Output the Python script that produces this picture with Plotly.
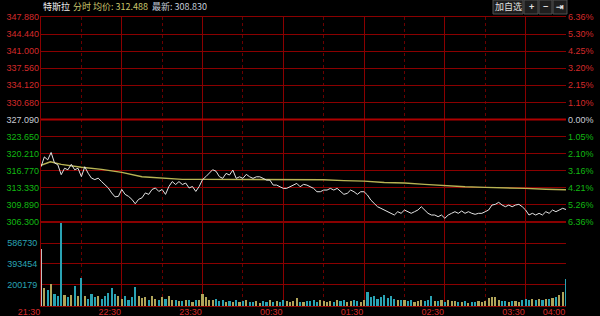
import pandas as pd
import plotly.graph_objects as go

# ---------------- data ----------------
start_time = "2021-01-04 21:30"
step = "150s"
prev_close = 327.09

price = [317.5, 319.5, 318.9, 320.4, 318.3, 317.9, 315.9, 317.2, 316.9, 318.0,
         316.9, 317.2, 315.5, 317.5, 316.2, 315.2, 314.9, 315.2, 314.5, 313.9,
         313.2, 312.2, 311.4, 311.5, 312.9, 311.9, 311.5, 310.9, 310.0, 310.9,
         311.2, 312.2, 311.9, 312.9, 313.2, 312.5, 312.9, 311.9, 313.5, 314.5,
         313.9, 314.5, 313.9, 314.2, 313.2, 313.5, 312.5, 313.5, 314.9, 315.5,
         316.2, 316.9, 316.6, 315.5, 315.15, 316.16, 315.82, 316.83, 315.15, 315.47,
         315.15, 315.96, 315.47, 315.15, 315.47, 315.47, 315.15, 314.8, 314.8, 313.79,
         313.79, 313.45, 313.12, 313.12, 313.45, 313.79, 314.13, 313.45, 313.93, 313.79,
         313.45, 313.12, 312.44, 312.44, 312.78, 312.78, 313.12, 312.78, 313.12, 312.44,
         311.91, 312.11, 312.78, 312.44, 311.91, 312.44, 312.44, 311.77, 310.75, 310.08,
         309.40, 309.07, 308.73, 308.39, 308.06, 307.72, 308.39, 308.06, 308.73, 308.39,
         308.06, 308.39, 308.73, 309.40, 308.73, 308.06, 307.72, 307.72, 307.38, 307.72,
         307.05, 307.72, 308.06, 308.39, 308.06, 308.53, 308.06, 308.39, 308.06, 307.86,
         308.06, 308.06, 308.39, 308.73, 309.74, 309.88, 310.29, 309.74, 309.40, 309.74,
         309.40, 309.74, 309.88, 309.40, 308.73, 307.72, 308.06, 307.72, 308.06, 307.72,
         308.39, 308.06, 308.73, 308.39, 308.73, 309.07, 308.83]

avg_times = ["2021-01-04 21:30", "2021-01-04 21:37", "2021-01-04 21:45", "2021-01-04 22:00",
             "2021-01-04 22:15", "2021-01-04 22:30", "2021-01-04 22:45", "2021-01-04 23:00",
             "2021-01-04 23:15", "2021-01-04 23:30", "2021-01-04 23:45", "2021-01-05 00:00",
             "2021-01-05 00:15", "2021-01-05 00:30", "2021-01-05 00:45", "2021-01-05 01:00",
             "2021-01-05 01:15", "2021-01-05 01:30", "2021-01-05 01:45", "2021-01-05 02:00",
             "2021-01-05 02:15", "2021-01-05 02:30", "2021-01-05 02:45", "2021-01-05 03:00",
             "2021-01-05 03:15", "2021-01-05 03:30", "2021-01-05 03:45", "2021-01-05 04:00"]
avg_price = [317.8, 318.5, 318.0, 317.4, 316.97, 316.36, 315.47, 315.15,
             314.94, 314.94, 314.94, 314.94, 314.9, 314.9, 314.87, 314.87,
             314.7, 314.6, 314.3, 314.2, 313.93, 313.65, 313.45, 313.32,
             313.25, 313.12, 312.95, 312.85]

volume = [530, 170, 150, 205, 110, 90, 780, 100, 80, 100,
          190, 90, 260, 90, 70, 110, 80, 95, 70, 90,
          120, 170, 110, 90, 70, 90, 60, 80, 180, 90,
          75, 80, 60, 90, 70, 60, 85, 70, 90, 55,
          60, 50, 45, 60, 55, 40, 55, 60, 115, 80,
          60, 55, 70, 45, 60, 40, 50, 35, 55, 40,
          45, 60, 40, 35, 45, 30, 50, 40, 55, 35,
          45, 40, 60, 50, 40, 45, 72, 40, 35, 50,
          45, 55, 40, 60, 45, 40, 50, 35, 60, 45,
          55, 40, 50, 60, 45, 40, 55, 134, 80, 95,
          70, 85, 100, 75, 90, 70, 60, 55, 60, 45,
          55, 40, 50, 60, 45, 55, 93, 50, 45, 55,
          40, 60, 45, 50, 40, 35, 45, 30, 40, 35,
          45, 40, 50, 75, 87, 80, 60, 50, 45, 40,
          50, 45, 40, 55, 70, 60, 65, 55, 70, 60,
          65, 70, 75, 80, 100, 134, 250]
volume = [v * 1000 for v in volume]

price_ticks = [306.300, 309.890, 313.330, 316.770, 320.210, 323.650, 327.090,
               330.680, 334.120, 337.560, 341.000, 344.440, 347.880]
pct_labels = ["6.36%", "5.26%", "4.21%", "3.16%", "2.10%", "1.05%", "0.00%",
              "1.10%", "2.15%", "3.20%", "4.25%", "5.30%", "6.36%"]
vol_ticks = [200179, 393454, 586730]
hour_ticks = ["2021-01-04 21:30", "2021-01-04 22:30", "2021-01-04 23:30", "2021-01-05 00:30",
              "2021-01-05 01:30", "2021-01-05 02:30", "2021-01-05 03:30", "2021-01-05 04:00"]
hour_labels = ["21:30", "22:30", "23:30", "00:30", "01:30", "02:30", "03:30", "04:00"]
half_ticks = ["2021-01-04 22:00", "2021-01-04 23:00", "2021-01-05 00:00",
              "2021-01-05 01:00", "2021-01-05 02:00", "2021-01-05 03:00"]

name = "特斯拉"
avg_label = "312.488"
last_label = "308.830"

# ---------------- styling ----------------
RED = "#d42a2a"
GREEN = "#12b812"
WHITE = "#c8ccd4"
TEAL = "#2aa3b4"
GRID = "#8a0000"
FONT = "Liberation Sans, Arial, sans-serif"
CJK = "Noto Sans CJK SC, sans-serif"

times = pd.date_range(start_time, periods=len(price), freq=step)

step_half = (price_ticks[-1] - price_ticks[0]) / 12.0
grid_vals = [prev_close + (i - 6) * step_half for i in range(13)]
REF = 6

bar_colors = ["#c0c0c0"]
for i in range(1, len(price)):
    bar_colors.append("#b0a45a" if price[i] >= price[i - 1] else TEAL)

fig = go.Figure()

fig.add_trace(go.Bar(x=times, y=volume, marker=dict(color=bar_colors, line=dict(width=0)),
                     width=95000, xaxis="x", yaxis="y2", hoverinfo="skip"))
fig.add_trace(go.Scatter(x=pd.to_datetime(avg_times), y=avg_price, mode="lines",
                         line=dict(color="#b8b454", width=1.4), xaxis="x2", yaxis="y"))
fig.add_trace(go.Scatter(x=times, y=price, mode="lines",
                         line=dict(color="#e4e4e4", width=1), xaxis="x2", yaxis="y"))

x_range = ["2021-01-04 21:30", "2021-01-05 04:00"]
split = 84 / 289
y_range = [price_ticks[0], price_ticks[-1]]

common_x = dict(range=x_range, type="date", showgrid=True, gridcolor=GRID, gridwidth=1,
                tickvals=hour_ticks, zeroline=False, showline=True, linecolor=GRID,
                mirror=True, automargin=False,
                minor=dict(tickvals=half_ticks, showgrid=True, gridcolor="#6a0000",
                           griddash="dot", gridwidth=1))

layout = dict(
    width=600, height=316,
    margin=dict(l=41, r=34, t=17, b=10, autoexpand=False),
    paper_bgcolor="#000000", plot_bgcolor="#000000",
    showlegend=False,
    bargap=0,
    font=dict(family=FONT, size=9, color=RED),
    xaxis=dict(**common_x, anchor="y2", ticktext=hour_labels, ticks="",
               tickfont=dict(color=RED, size=9), ticklabelshift=-12, ticklabelstandoff=-3),
    xaxis2=dict(**common_x, anchor="y", matches="x", showticklabels=False),
    yaxis=dict(domain=[split, 1], range=y_range, tickvals=grid_vals, showticklabels=False,
               showgrid=True, gridcolor=GRID, zeroline=False, ticks="", showline=True,
               linecolor=GRID, automargin=False),
    yaxis2=dict(domain=[0, split], range=[0, 786000], tickvals=vol_ticks,
                ticktext=[str(v) for v in vol_ticks], showgrid=True, gridcolor=GRID,
                zeroline=False, ticks="", tickfont=dict(size=9, color=TEAL),
                showline=True, linecolor=GRID, ticklabelstandoff=1, automargin=False),
)

# label groups: above previous close (red), previous close (white), below (green)
groups = [(list(range(REF + 1, 13)), RED), ([REF], WHITE), (list(range(0, REF)), GREEN)]
axis_n = 3
for side, labels in (("left", [f"{v:.3f}" for v in price_ticks]), ("right", pct_labels)):
    for idxs, col in groups:
        key = f"yaxis{axis_n}"
        layout[key] = dict(overlaying="y", side=side, anchor="x2", range=y_range,
                           tickvals=[grid_vals[i] for i in idxs],
                           ticktext=[labels[i] for i in idxs],
                           showgrid=False, zeroline=False, ticks="", showline=False,
                           tickfont=dict(size=9, color=col), ticklabelstandoff=1,
                           automargin=False)
        fig.add_trace(go.Scatter(x=times, y=price, mode="lines", xaxis="x2",
                                 yaxis=f"y{axis_n}", hoverinfo="skip",
                                 line=dict(color="rgba(0,0,0,0)", width=0)))
        axis_n += 1

fig.update_layout(**layout)

# thicker reference (previous close) line
fig.add_shape(type="line", xref="x2 domain", yref="y", x0=0, x1=1, y0=prev_close,
              y1=prev_close, line=dict(color="#b00000", width=2))


def px_x(p):
    return (p - 41) / 525.0


def px_y(p):
    return 1 - (p - 17) / 289.0


# header bar
fig.add_shape(type="rect", xref="paper", yref="paper", x0=px_x(0), x1=px_x(600),
              y0=px_y(13), y1=px_y(0), fillcolor="#000000", line=dict(width=0), layer="above")

header_parts = [(name, 41, "#ececec"), ("分时", 71, "#c8c46c"),
                (f"均价: {avg_label}", 91, "#c8c46c"), (f"最新: {last_label}", 150, "#c4ccd8")]
for txt, xpos, col in header_parts:
    fig.add_annotation(xref="paper", yref="paper", x=px_x(xpos), y=px_y(7), text=txt,
                       showarrow=False, xanchor="left", yanchor="middle",
                       font=dict(family=CJK, size=9, color=col))

buttons = [("加自选", 493, 523), ("+", 524, 538), ("−", 539, 552), ("⇥", 553, 567)]
for label, a, b in buttons:
    fig.add_shape(type="rect", xref="paper", yref="paper", x0=px_x(a), x1=px_x(b),
                  y0=px_y(14), y1=px_y(0), fillcolor="#1e1e1e",
                  line=dict(color="#505050", width=1), layer="above")
    fig.add_annotation(xref="paper", yref="paper", x=px_x((a + b) / 2), y=px_y(7),
                       text=f"<b>{label}</b>" if label != "加自选" else label,
                       showarrow=False, xanchor="center", yanchor="middle",
                       font=dict(family=CJK, size=9, color="#e0e0e0"))

fig.write_html("out.html")
